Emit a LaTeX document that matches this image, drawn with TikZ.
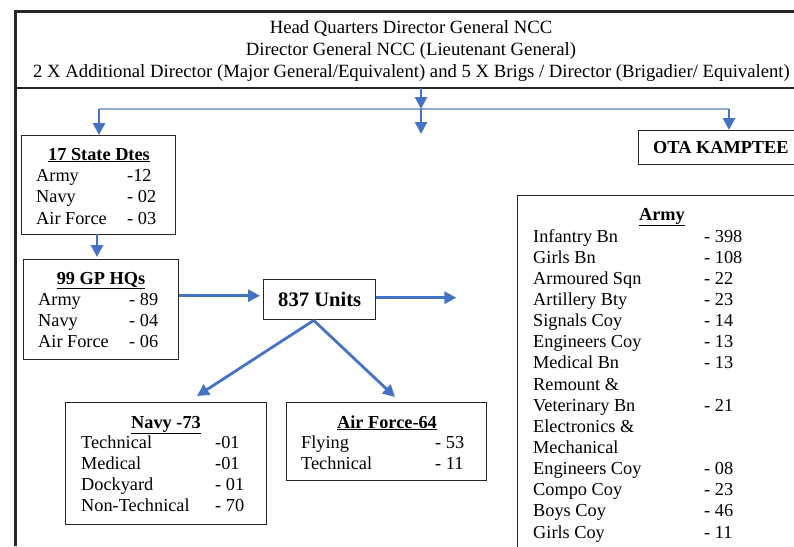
\documentclass[tikz,border=0pt]{standalone}
\usepackage{fontspec}
\setmainfont{Liberation Serif}
\usetikzlibrary{arrows.meta,calc}
\definecolor{arr}{HTML}{4472C4}
\definecolor{thinblue}{HTML}{8FAADC}
\definecolor{frm}{HTML}{262626}
\newcommand\myfs{\fontsize{18.3}{21}\selectfont}
\newcommand\myhfs{\fontsize{18.7}{21}\selectfont}
\newcommand\mybig{\fontsize{20.6}{23}\selectfont}
\begin{document}
\begin{tikzpicture}[x=1pt,y=-1pt,
  box/.style={draw=frm,line width=1.4pt,inner sep=0pt,anchor=north west},
  txt/.style={anchor=base west,inner sep=0pt,font=\myfs},
  ttl/.style={anchor=base,inner sep=0pt,font=\myfs\bfseries},
  hdr/.style={anchor=base,inner sep=0pt,font=\myhfs},
  arrow/.style={draw=arr,line width=2.8pt,-{Triangle[length=12pt,width=12pt]}},
]
\useasboundingbox (0,0) rectangle (794,546);
% frame
\draw[frm,line width=3pt] (15,546) -- (15,11) -- (794,11);
\draw[frm,line width=1.5pt] (15,88) -- (794,88);
\node[hdr] (h1) at (411,33) {Head Quarters Director General NCC};
\node[hdr] (h2) at (411,55) {Director General NCC (Lieutenant General)};
\node[hdr] (h3) at (411.5,77) {2 X Additional Director (Major General/Equivalent) and 5 X Brigs / Director (Brigadier/ Equivalent)};
% boxes
\node[box,minimum width=154pt,minimum height=99pt] (sd) at (21,135) {};
\node[box,minimum width=155pt,minimum height=100pt] (gp) at (23,259) {};
\node[box,minimum width=112pt,minimum height=40pt,font=\mybig\bfseries] (u) at (263,279) {837 Units};
\node[box,minimum width=201pt,minimum height=122pt] (nv) at (65,402) {};
\node[box,minimum width=200pt,minimum height=78pt] (af) at (286,402) {};
\node[box,minimum width=170pt,minimum height=34pt] (ota) at (638,130) {};
\node[box,minimum width=300pt,minimum height=400pt] (army) at (517,195) {};
% OTA text
\node[anchor=base west,inner sep=0pt,font=\myfs\bfseries] (otat) at (653,153) {OTA KAMPTEE};
% 17 State Dtes
\node[ttl] (sdt) at (99,160) {\underline{17 State Dtes}};
\foreach \t/\v [count=\i from 0] in {Army/-12, Navy/- 02, Air Force/- 03}{
  \node[txt] (sdr\i) at (36,181+21.5*\i) {\t};
  \node[txt] (sdv\i) at (127,181+21.5*\i) {\v};
}
% 99 GP HQs
\node[ttl] (gpt) at (101,284) {\underline{99 GP HQs}};
\foreach \t/\v [count=\i from 0] in {Army/- 89, Navy/- 04, Air Force/- 06}{
  \node[txt] (gpr\i) at (38,305+21.2*\i) {\t};
  \node[txt] (gpv\i) at (129,305+21.2*\i) {\v};
}
% Navy
\node[ttl] (nvt) at (166,428) {\underline{Navy -73}};
\foreach \t/\v [count=\i from 0] in {Technical/-01, Medical/-01, Dockyard/- 01, Non-Technical/- 70}{
  \node[txt] (nvr\i) at (81,448+21.2*\i) {\t};
  \node[txt] (nvv\i) at (215,448+21.2*\i) {\v};
}
% Air Force
\node[ttl] (aft) at (387,428) {\underline{Air Force-64}};
\foreach \t/\v [count=\i from 0] in {Flying/- 53, Technical/- 11}{
  \node[txt] (afr\i) at (301,448+21.2*\i) {\t};
  \node[txt] (afv\i) at (435,448+21.2*\i) {\v};
}
% Army
\node[ttl] (armt) at (662,220) {\underline{Army}};
\foreach \t/\v [count=\i from 0] in {Infantry Bn/- 398, Girls Bn/- 108, Armoured Sqn/- 22, Artillery Bty/- 23, Signals Coy/- 14, Engineers Coy/- 13, Medical Bn/- 13, Remount \&/{}, Veterinary Bn/- 21, Electronics \&/{}, Mechanical/{}, Engineers Coy/- 08, Compo Coy/- 23, Boys Coy/- 46, Girls Coy/- 11}{
  \node[txt] (arr\i) at (533,242+21.15*\i) {\t};
  \node[txt] (arv\i) at (704,242+21.15*\i) {\v};
}
% connectors
\coordinate (hb) at (421,88);
\coordinate (j) at (421,109);
\coordinate (jl) at (99,109);
\coordinate (jr) at (729,109);
\coordinate (jm) at (421,134);
\draw[thinblue,line width=1.3pt] (jl) -- (jr);
\draw[arrow] (hb) -- (j);
\draw[arrow] (j) -- (jm);
\draw[arrow] (jl) -- (jl |- sd.north);
\draw[arrow] (jr) -- (jr |- ota.north);
\draw[arrow,shorten >=2pt] (97,234) -- (97,259);
\draw[arrow,shorten >=3pt] ([yshift=4pt]u.west -| gp.east) -- ([yshift=4pt]u.west);
\coordinate (ue) at ($([yshift=2pt]u.east)+(80,0)$);
\draw[arrow] ([yshift=2pt]u.east) -- (ue);
\coordinate (nva) at (197,396);
\coordinate (afa) at (395,397);
\draw[arrow] ([xshift=-6pt]u.south) -- (nva);
\draw[arrow] ([xshift=-6pt]u.south) -- (afa);
\end{tikzpicture}
\end{document}
